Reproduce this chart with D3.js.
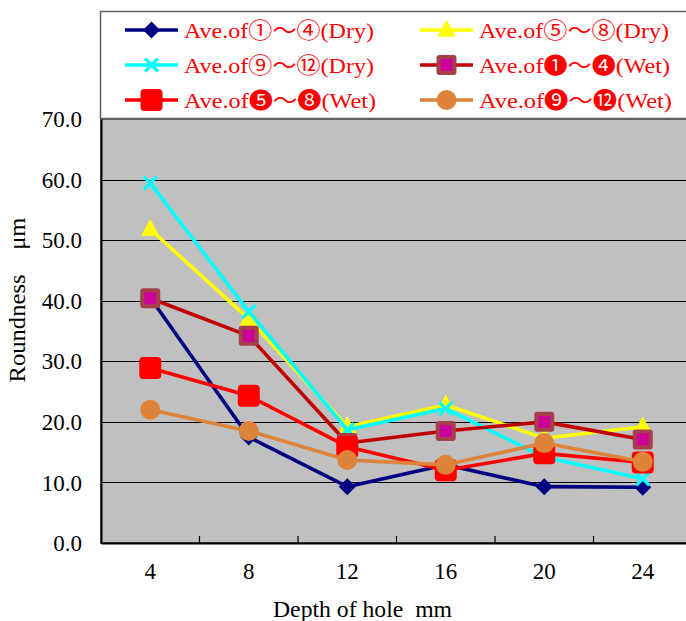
<!DOCTYPE html>
<html>
<head>
<meta charset="utf-8">
<script src="https://cdn.jsdelivr.net/npm/d3@7/dist/d3.min.js"></script>
<style>
  html, body { margin: 0; padding: 0; background: #fff; }
  svg { display: block; }
  svg text { font-family: "Liberation Serif", "Times New Roman", Times, "DejaVu Serif", serif; white-space: pre; }
  svg text .cjk { font-family: "Noto Sans CJK JP", "Noto Sans CJK SC", sans-serif; }
</style>
</head>
<body>
<svg id="chart" width="686" height="621"></svg>
<script>
// Hole depth categories (mm)
const depths = ["4", "8", "12", "16", "20", "24"];

// Average roundness (µm) per group of holes
const dry1to4   = [40.5, 17.5, 9.3, 12.9, 9.3, 9.2];
const dry5to8   = [51.8, 37.0, 19.2, 22.8, 17.3, 19.2];
const dry9to12  = [59.4, 38.2, 18.7, 22.2, 14.2, 10.6];
const wet1to4   = [40.4, 34.2, 16.5, 18.5, 20.0, 17.1];
const wet5to8   = [28.9, 24.3, 15.9, 12.0, 14.8, 13.3];
const wet9to12  = [22.0, 18.5, 13.7, 12.9, 16.5, 13.4];

const seriesNames = [
  "Ave.of①～④(Dry)", "Ave.of⑤～⑧(Dry)", "Ave.of⑨～⑫(Dry)",
  "Ave.of❶～❹(Wet)", "Ave.of❺～❽(Wet)", "Ave.of❾～⓬(Wet)"
];

const yTicks = [0, 10, 20, 30, 40, 50, 60, 70];

const series = [
  { name: seriesNames[0], values: dry1to4,  color: "#000080", marker: "diamond" },
  { name: seriesNames[1], values: dry5to8,  color: "#ffff00", marker: "triangle" },
  { name: seriesNames[2], values: dry9to12, color: "#00ffff", marker: "cross" },
  { name: seriesNames[3], values: wet1to4,  color: "#c00000", marker: "framedSquare" },
  { name: seriesNames[4], values: wet5to8,  color: "#ff0000", marker: "square" },
  { name: seriesNames[5], values: wet9to12, color: "#dd843a", marker: "circle" }
];

const svg = d3.select("#chart");
const plot = { left: 101, top: 119, right: 692, bottom: 543 };

const x = d3.scaleBand().domain(depths).range([plot.left, plot.right]);
const y = d3.scaleLinear().domain([0, 70]).range([plot.bottom, plot.top]);

// Plot area
svg.append("rect")
  .attr("x", plot.left).attr("y", plot.top)
  .attr("width", plot.right - plot.left).attr("height", plot.bottom - plot.top)
  .attr("fill", "#c0c0c0").attr("stroke", "#404040").attr("stroke-width", 1.5);

// Horizontal gridlines
svg.append("g").selectAll("line")
  .data(yTicks.filter(t => t > 0 && t < 70))
  .join("line")
  .attr("x1", plot.left).attr("x2", plot.right)
  .attr("y1", d => Math.round(y(d)) + 0.5).attr("y2", d => Math.round(y(d)) + 0.5)
  .attr("stroke", "#000").attr("stroke-width", 1.2);

// Y axis
const yAxis = svg.append("g")
  .attr("transform", `translate(${plot.left},0)`)
  .call(d3.axisLeft(y).tickValues(yTicks).tickFormat(d3.format(".1f")).tickSize(0).tickPadding(19));
yAxis.attr("font-family", null);
yAxis.select(".domain").attr("stroke", "#000").attr("stroke-width", 2);
yAxis.selectAll("text").attr("font-size", 23).attr("fill", "#000").attr("dy", "0.33em");

// X axis with inward ticks at band boundaries
const xAxis = svg.append("g")
  .attr("transform", `translate(0,${plot.bottom})`)
  .call(d3.axisBottom(x).tickSize(0).tickPadding(0));
xAxis.attr("font-family", null);
xAxis.select(".domain").attr("stroke", "#000").attr("stroke-width", 2);
xAxis.selectAll("text").attr("font-size", 23).attr("fill", "#000").attr("y", 36).attr("dy", null);
svg.append("g").selectAll("line")
  .data(depths.slice(1))
  .join("line")
  .attr("x1", d => x(d)).attr("x2", d => x(d))
  .attr("y1", plot.bottom).attr("y2", plot.bottom - 7)
  .attr("stroke", "#000").attr("stroke-width", 1.2);

// Axis titles
svg.append("text")
  .attr("x", 362.5).attr("y", 617)
  .attr("text-anchor", "middle")
  .attr("font-size", 24)
  .attr("textLength", 179).attr("lengthAdjust", "spacingAndGlyphs")
  .text("Depth of hole  mm");
svg.append("text")
  .attr("transform", "translate(25,300) rotate(-90)")
  .attr("text-anchor", "middle")
  .attr("font-size", 24)
  .attr("textLength", 165).attr("lengthAdjust", "spacingAndGlyphs")
  .text("Roundness　μm");

// Marker drawing
function drawMarker(g, type, color) {
  switch (type) {
    case "diamond":
      g.append("path").attr("d", "M0,-8.5L8.5,0L0,8.5L-8.5,0Z").attr("fill", color);
      break;
    case "triangle":
      g.append("path").attr("d", "M0,-9L8,6L-8,6Z")
        .attr("fill", color).attr("stroke", color).attr("stroke-width", 1.5).attr("stroke-linejoin", "round");
      break;
    case "cross":
      g.append("path").attr("d", "M-6.5,-6.5L6.5,6.5M6.5,-6.5L-6.5,6.5")
        .attr("stroke", color).attr("stroke-width", 3.2).attr("fill", "none");
      break;
    case "framedSquare":
      g.append("rect").attr("x", -10).attr("y", -10).attr("width", 20).attr("height", 20)
        .attr("rx", 3).attr("fill", "#a5404a");
      g.append("rect").attr("x", -6).attr("y", -6).attr("width", 12).attr("height", 12)
        .attr("fill", "#cc0099");
      break;
    case "square":
      g.append("rect").attr("x", -11).attr("y", -11).attr("width", 22).attr("height", 22)
        .attr("rx", 4).attr("fill", color);
      break;
    case "circle":
      g.append("circle").attr("r", 10).attr("fill", color);
      break;
  }
}

// Series lines and markers
const line = d3.line()
  .x((d, i) => x(depths[i]) + x.bandwidth() / 2)
  .y(d => y(d));

series.forEach(s => {
  const g = svg.append("g");
  g.append("path")
    .attr("d", line(s.values))
    .attr("fill", "none").attr("stroke", s.color).attr("stroke-width", 3.6)
    .attr("stroke-linejoin", "round");
  s.values.forEach((v, i) => {
    const m = g.append("g").attr("transform", `translate(${x(depths[i]) + x.bandwidth()/2},${y(v)})`);
    drawMarker(m, s.marker, s.color);
  });
});

// Legend
const legend = svg.append("g");
legend.append("rect")
  .attr("x", 100.5).attr("y", 11.5).attr("width", 600).attr("height", 107)
  .attr("fill", "#fff").attr("stroke", "#606060").attr("stroke-width", 1.5);
const legendCols = [125, 420];
const legendRows = [30, 65, 100];
const legendTextWidth = [190, 190, 190, 191, 192, 193];

// Split a label into ASCII runs and symbol runs so symbols use a CJK face
function labelRuns(str) {
  const runs = [];
  for (const ch of str) {
    const wide = ch.charCodeAt(0) > 127;
    const last = runs[runs.length - 1];
    if (last && last.wide === wide) last.text += ch;
    else runs.push({ text: ch, wide });
  }
  return runs;
}

series.forEach((s, i) => {
  const cx = legendCols[i % 2], cy = legendRows[Math.floor(i / 2)];
  const g = legend.append("g");
  g.append("line").attr("x1", cx).attr("x2", cx + 53).attr("y1", cy).attr("y2", cy)
    .attr("stroke", s.color).attr("stroke-width", 3.6);
  const m = g.append("g").attr("transform", `translate(${cx + 26.5},${cy})`);
  drawMarker(m, s.marker, s.color);
  const t = g.append("text")
    .attr("x", cx + 59).attr("y", cy + 7.5)
    .attr("font-size", 22).attr("fill", "#ff0000")
    .attr("textLength", legendTextWidth[i]).attr("lengthAdjust", "spacingAndGlyphs");
  labelRuns(s.name).forEach(r => {
    t.append("tspan").attr("class", r.wide ? "cjk" : null).text(r.text);
  });
});
</script>
</body>
</html>
